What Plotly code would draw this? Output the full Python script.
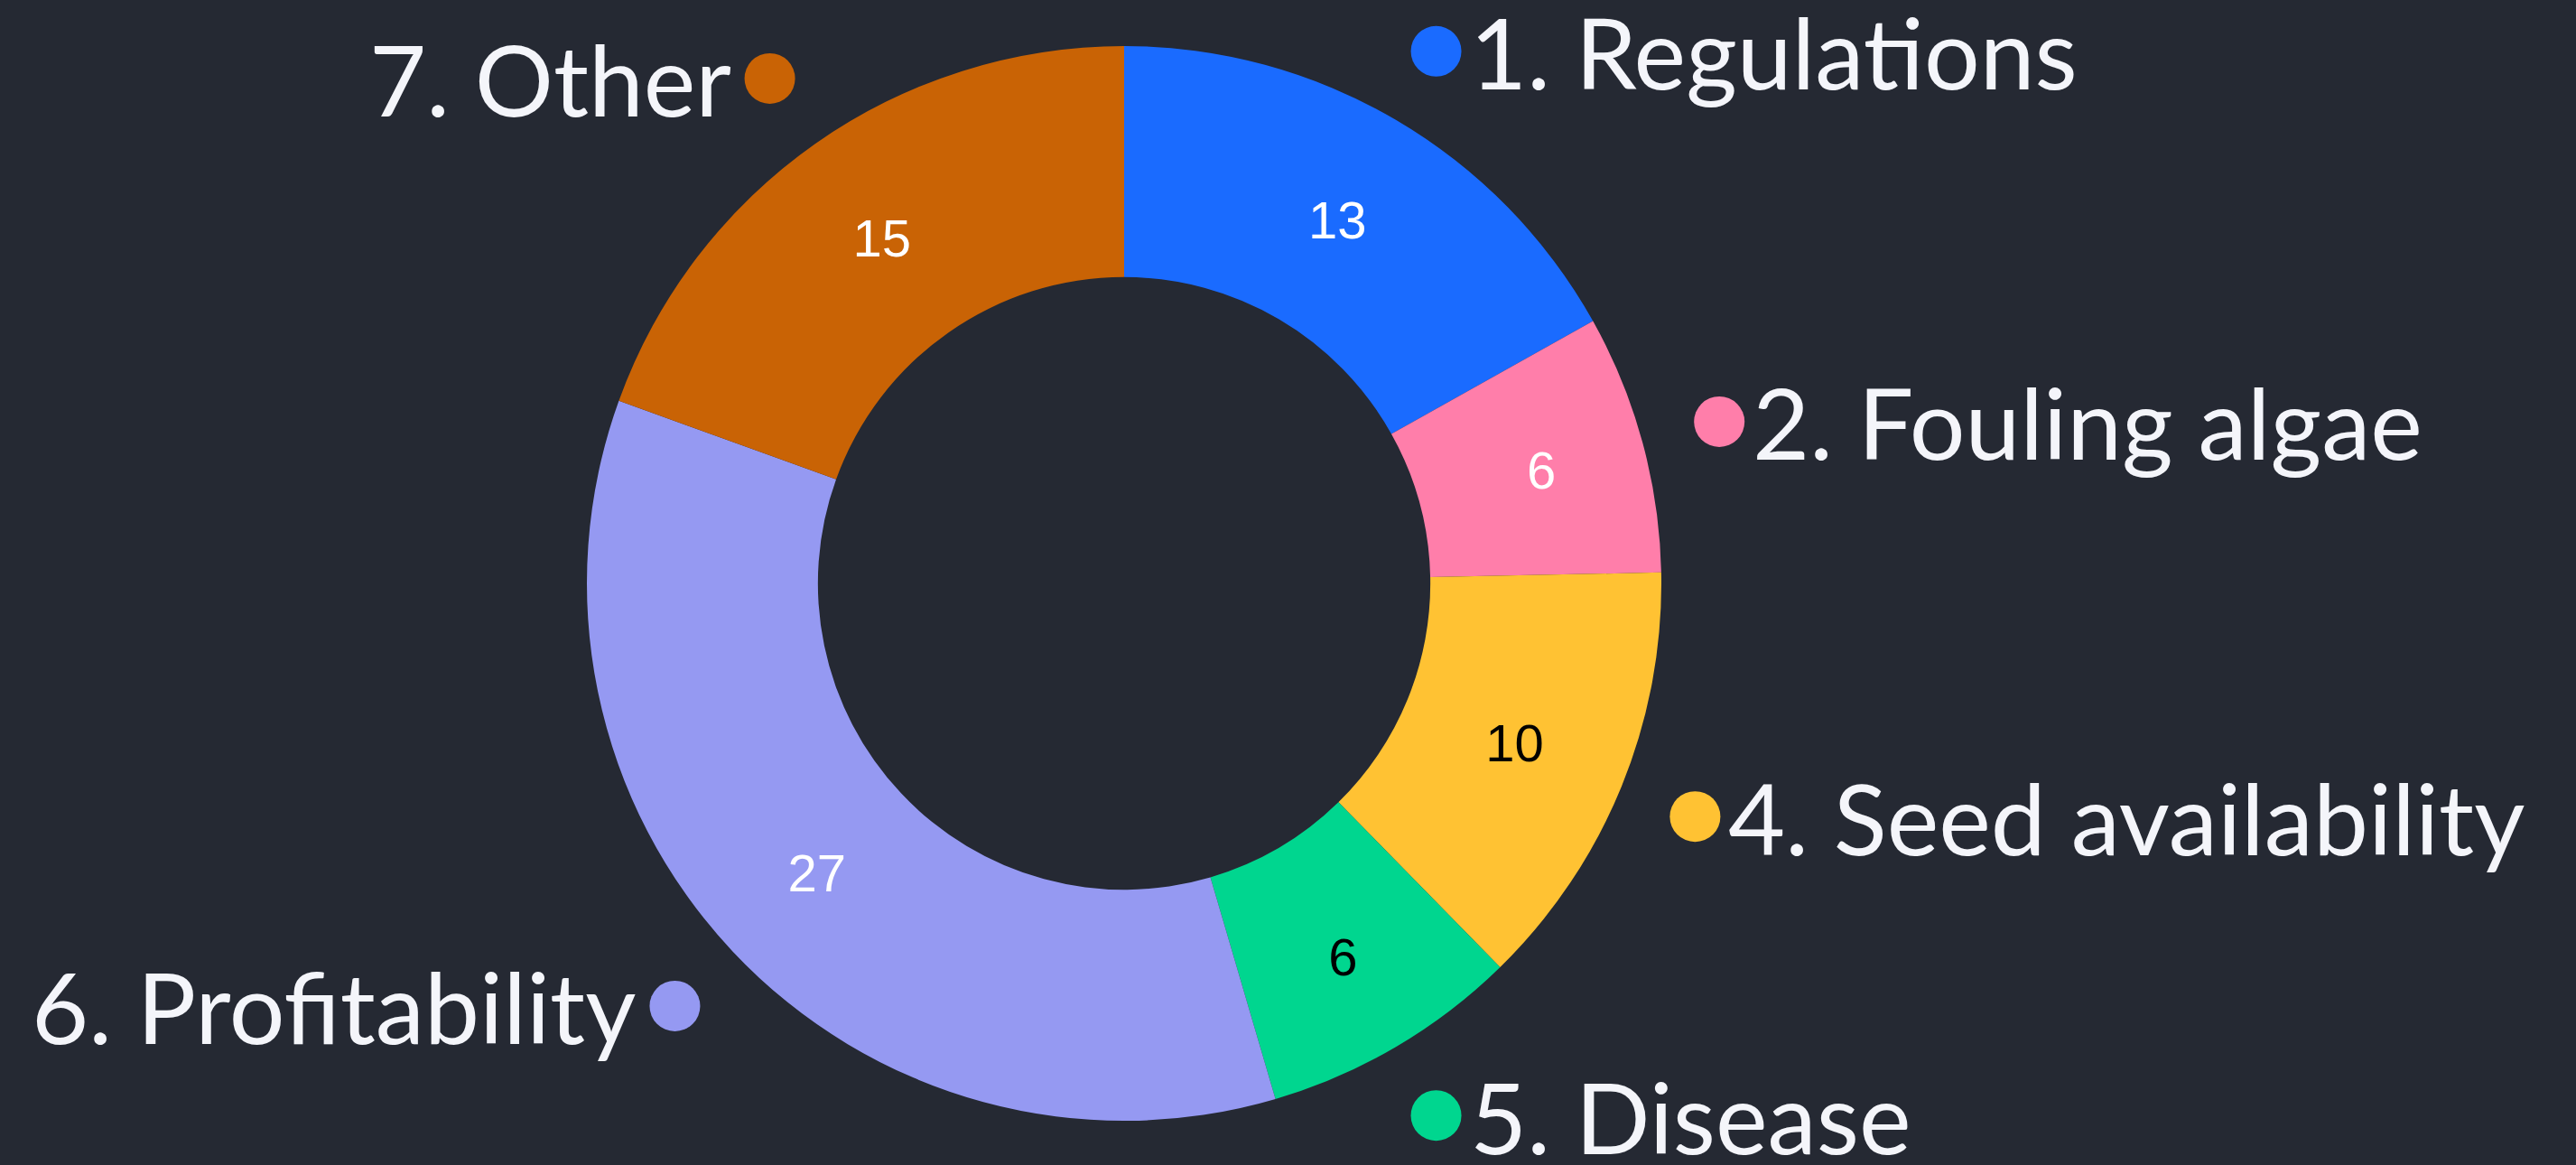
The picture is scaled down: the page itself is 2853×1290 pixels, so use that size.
import math
import plotly.graph_objects as go

# ---- data ----
categories = ["1. Regulations", "2. Fouling algae", "4. Seed availability",
              "5. Disease", "6. Profitability", "7. Other"]
values = [13, 6, 10, 6, 27, 15]
colors = ["#1a6bff", "#ff7eaa", "#ffc233", "#00d68f", "#9599f2", "#c96305"]
value_text_colors = ["#ffffff", "#ffffff", "#000000", "#000000", "#ffffff", "#ffffff"]

# ---- layout constants ----
W, H = 2853, 1290
BG = "#252933"
cx, cy, R = 1245, 646, 595
hole = 0.57
label_r = 1.148 * R

fig = go.Figure()

fig.add_trace(go.Pie(
    labels=categories,
    values=values,
    sort=False,
    direction="clockwise",
    rotation=0,
    hole=hole,
    marker=dict(colors=colors, line=dict(width=0)),
    textinfo="value",
    textposition="inside",
    insidetextorientation="horizontal",
    textfont=dict(family="Liberation Sans, Arial, sans-serif", size=58,
                  color=value_text_colors),
    hoverinfo="skip",
    showlegend=False,
    domain=dict(x=[(cx - R) / W, (cx + R) / W],
                y=[1 - (cy + R) / H, 1 - (cy - R) / H]),
))

# label dots + text along slice midpoints
total = sum(values)
cum = 0
dot_x, dot_y = [], []
annotations = []
for cat, v in zip(categories, values):
    mid = (cum + v / 2) / total * 2 * math.pi
    cum += v
    x = cx + label_r * math.sin(mid)
    y = cy - label_r * math.cos(mid)
    dot_x.append(x)
    dot_y.append(y)
    right = math.sin(mid) > 0
    annotations.append(dict(
        x=x + (36 if right else -42), y=y, xref="x", yref="y",
        text=cat, showarrow=False,
        xanchor="left" if right else "right", yanchor="middle",
        font=dict(family="Lato, sans-serif", size=109, color="#f4f5fa"),
        borderpad=0,
    ))

fig.add_trace(go.Scatter(
    x=dot_x, y=dot_y, mode="markers",
    marker=dict(size=56, color=colors, line=dict(width=0)),
    hoverinfo="skip", showlegend=False,
))

fig.update_layout(
    width=W, height=H,
    paper_bgcolor=BG, plot_bgcolor=BG,
    margin=dict(l=0, r=0, t=0, b=0),
    xaxis=dict(range=[0, W], visible=False, domain=[0, 1], fixedrange=True),
    yaxis=dict(range=[H, 0], visible=False, domain=[0, 1], fixedrange=True),
    annotations=annotations,
    showlegend=False,
)

fig.write_html(
    "out.html",
    config={"displayModeBar": False},
    post_script="document.body.style.margin='0';document.body.style.background='#252933';"
                "document.body.style.overflow='hidden';",
)
